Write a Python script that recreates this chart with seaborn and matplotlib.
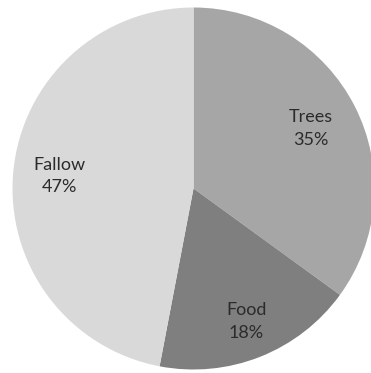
import matplotlib
matplotlib.use("Agg")
import matplotlib.pyplot as plt
import numpy as np
import seaborn as sns

# Land use shares
categories = ["Trees", "Food", "Fallow"]
shares = [35, 18, 47]
colors = ["#a6a6a6", "#7f7f7f", "#d9d9d9"]

sns.set_theme(style="white")
plt.rcParams["font.family"] = ["Lato", "DejaVu Sans"]

W, H = 371, 373
fig = plt.figure(figsize=(W / 100, H / 100), dpi=100)
cx, cy, r = 193.5, 188.5, 181
ax = fig.add_axes([(cx - r) / W, (H - cy - r) / H, 2 * r / W, 2 * r / H])

labels_iter = iter(categories)


def fmt(pct):
    return f"{next(labels_iter)}\n{pct:.0f}%"


wedges, texts, autotexts = ax.pie(
    shares,
    colors=colors,
    startangle=90,
    counterclock=False,
    autopct=fmt,
    pctdistance=0.75,
    radius=1.0,
    wedgeprops=dict(linewidth=0),
    textprops=dict(color="#2b2b2b", fontsize=13, linespacing=1.5),
)

# push the label of the small slice a little further out
label_dist = [0.73, 0.79, 0.745]
for w, t, d in zip(wedges, autotexts, label_dist):
    ang = np.deg2rad((w.theta1 + w.theta2) / 2)
    t.set_position((d * np.cos(ang), d * np.sin(ang)))

ax.set_xlim(-1, 1)
ax.set_ylim(-1, 1)
ax.set_aspect("auto")
ax.set_axis_off()

fig.savefig("out.png", dpi=100, facecolor="white")
